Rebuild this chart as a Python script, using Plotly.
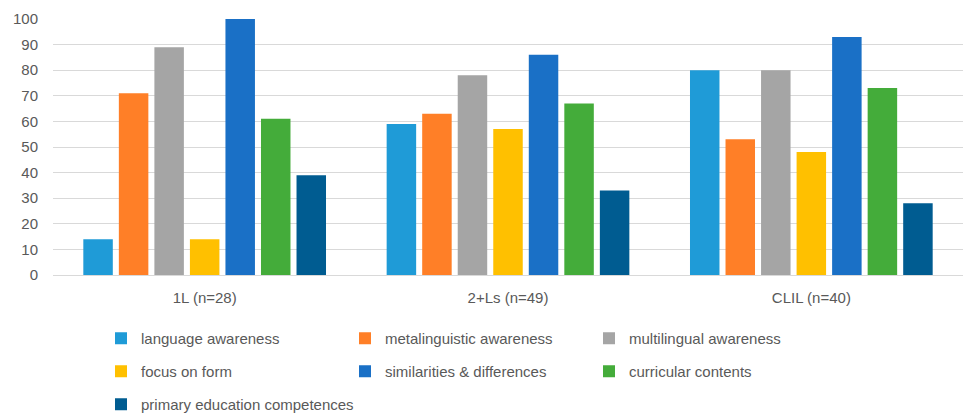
import plotly.graph_objects as go

groups = ["1L (n=28)", "2+Ls (n=49)", "CLIL (n=40)"]
series_names = [
    "language awareness",
    "metalinguistic awareness",
    "multilingual awareness",
    "focus on form",
    "similarities & differences",
    "curricular contents",
    "primary education competences",
]
language_awareness = [14, 59, 80]
metalinguistic_awareness = [71, 63, 53]
multilingual_awareness = [89, 78, 80]
focus_on_form = [14, 57, 48]
similarities_differences = [100, 86, 93]
curricular_contents = [61, 67, 73]
primary_education_competences = [39, 33, 28]
y_ticks = [0, 10, 20, 30, 40, 50, 60, 70, 80, 90, 100]

values = [language_awareness, metalinguistic_awareness, multilingual_awareness,
          focus_on_form, similarities_differences, curricular_contents,
          primary_education_competences]
colors = ["#1F9BD7", "#FF7F27", "#A5A5A5", "#FFC000", "#1A70C6", "#44AC3A", "#005C91"]
legend_ids = ["legend", "legend", "legend", "legend2", "legend2", "legend2", "legend3"]

W, H = 963, 415
FONT = "Liberation Sans Narrow, Liberation Sans, Arial, sans-serif"
TXT = "#595959"

fig = go.Figure()
for name, vals, col, lg in zip(series_names, values, colors, legend_ids):
    fig.add_trace(go.Bar(name=name, x=groups, y=vals, marker=dict(color=col, line=dict(width=0)),
                         legend=lg))

def leg(py, ew=199):
    return dict(orientation="h", xref="container", yref="container",
                x=101 / W, y=1 - py / H, xanchor="left", yanchor="middle",
                entrywidth=ew, entrywidthmode="pixels",
                font=dict(family=FONT, size=15, color=TXT),
                bgcolor="rgba(0,0,0,0)", borderwidth=0, traceorder="normal")

fig.update_layout(
    width=W, height=H,
    margin=dict(l=53, r=0, t=19, b=140, autoexpand=False),
    paper_bgcolor="white", plot_bgcolor="white",
    barmode="group", bargap=0.18, bargroupgap=0.17,
    font=dict(family=FONT, size=15, color=TXT),
    showlegend=True,
    legend=leg(338.5), legend2=leg(371.5), legend3=leg(404.5, 320),
    xaxis=dict(showgrid=False, showline=False, zeroline=False, ticks="",
               ticklabelstandoff=12, tickfont=dict(family=FONT, size=15, color=TXT)),
    yaxis=dict(range=[0, 100], tickvals=y_ticks, showgrid=True, gridcolor="#D9D9D9",
               gridwidth=1, zeroline=True, zerolinecolor="#D9D9D9", zerolinewidth=1,
               showline=False, ticks="", ticklabelstandoff=14,
               tickfont=dict(family=FONT, size=15, color=TXT)),
)

fig.write_html("out.html")
